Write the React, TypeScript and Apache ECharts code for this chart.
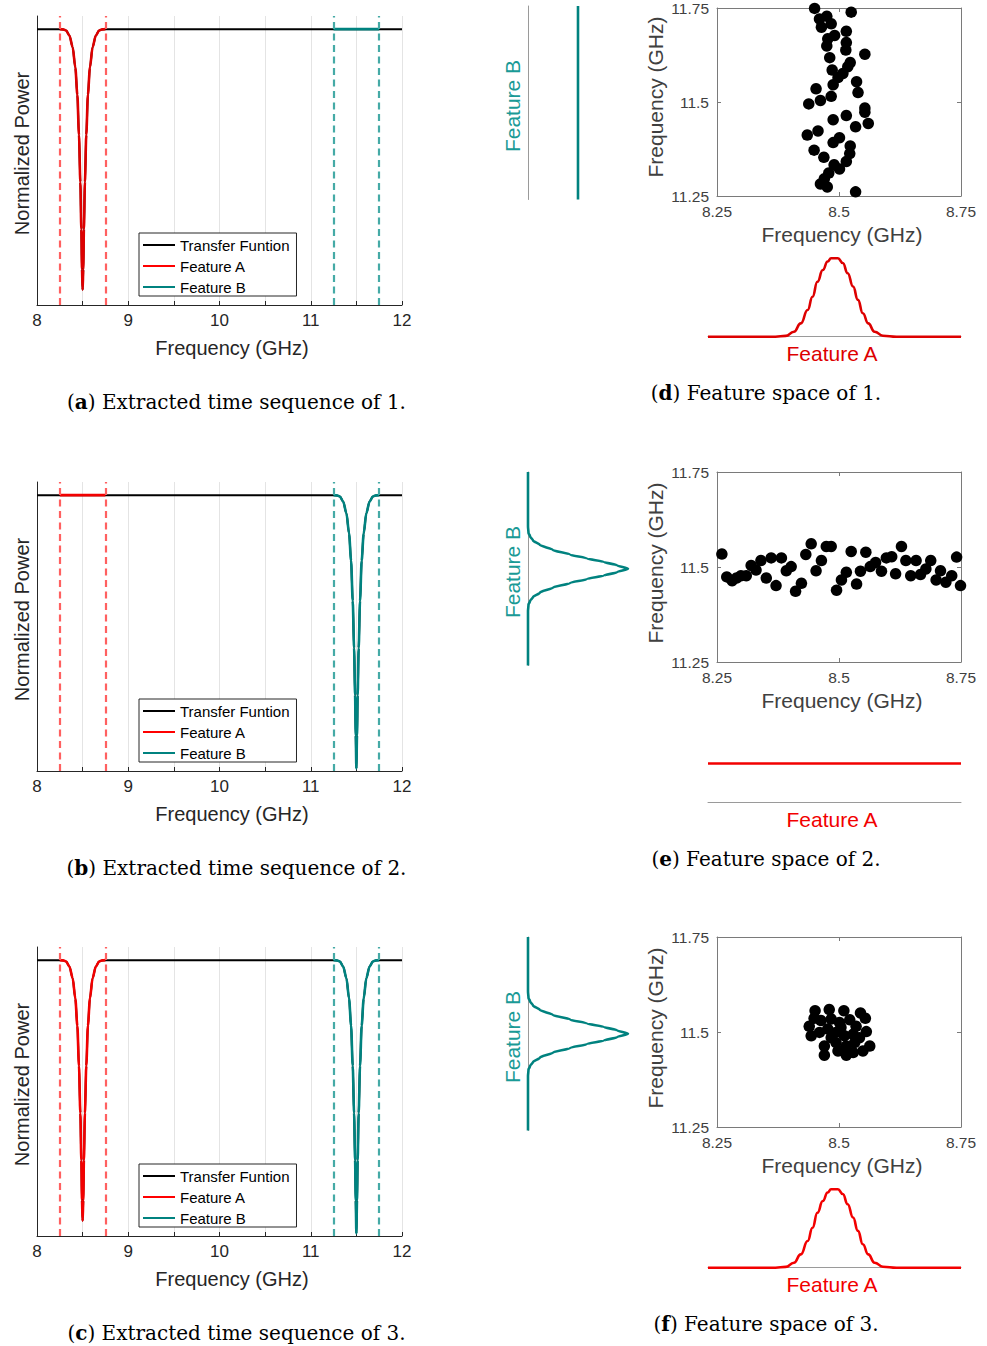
import React, { useEffect, useRef } from 'react';
import * as echarts from 'echarts';

// ---------------- data ----------------
const SEQUENCES = ['1', '2', '3'];
const LEFT_LETTERS = ['a', 'b', 'c'];
const RIGHT_LETTERS = ['d', 'e', 'f'];
const LEGEND_NAMES = ['Transfer Funtion', 'Feature A', 'Feature B'];

const FREQ_RANGE = [8, 12];
const FEATURE_A_WINDOW = [8.25, 8.75];
const FEATURE_B_WINDOW = [11.25, 11.75];
const FEATURE_A_CENTER = 8.5;
const FEATURE_B_CENTER = 11.5;
const PASS_LEVEL = 1;

// resonance dip profile (offset from resonance in GHz -> normalized power), left half
const DIP_OFFSETS = [-0.25, -0.215, -0.181, -0.145, -0.109, -0.08, -0.058, -0.04, -0.025, -0.014, -0.007, 0];
const DIP_VALUES = [1.0, 0.999, 0.995, 0.976, 0.931, 0.854, 0.751, 0.597, 0.418, 0.238, 0.085, 0];
const DIP_A_MIN = 0.008;
const DIP_B_MIN = -0.04;

// whether each sequence shows a dip in feature A / B
const SEQ_HAS_A_DIP = [true, false, true];
const SEQ_HAS_B_DIP = [false, true, true];

// scatter points (Feature A freq, Feature B freq)
const SCATTER_1 = [
  [8.45, 11.749], [8.525, 11.739], [8.46, 11.721], [8.475, 11.728], [8.484, 11.708], [8.464, 11.699],
  [8.515, 11.688], [8.491, 11.677], [8.477, 11.668], [8.515, 11.658], [8.475, 11.649], [8.514, 11.638],
  [8.553, 11.627], [8.481, 11.618], [8.523, 11.605], [8.518, 11.594], [8.486, 11.585], [8.508, 11.576],
  [8.498, 11.565], [8.536, 11.554], [8.488, 11.546], [8.453, 11.535], [8.539, 11.525], [8.484, 11.515],
  [8.462, 11.504], [8.438, 11.495], [8.553, 11.484], [8.553, 11.473], [8.515, 11.464], [8.488, 11.453],
  [8.56, 11.443], [8.534, 11.434], [8.457, 11.423], [8.435, 11.412], [8.501, 11.405], [8.488, 11.392],
  [8.523, 11.383], [8.449, 11.372], [8.522, 11.363], [8.469, 11.353], [8.515, 11.342], [8.49, 11.333],
  [8.501, 11.322], [8.479, 11.311], [8.47, 11.296], [8.462, 11.282], [8.476, 11.274], [8.534, 11.261],
  [8.475, 11.249],
];
const SCATTER_2 = [
  [8.248, 11.477], [8.26, 11.534], [8.27, 11.474], [8.281, 11.464], [8.29, 11.471], [8.299, 11.477],
  [8.31, 11.477], [8.32, 11.504], [8.33, 11.492], [8.34, 11.517], [8.351, 11.471], [8.361, 11.524],
  [8.371, 11.451], [8.382, 11.524], [8.392, 11.49], [8.402, 11.501], [8.411, 11.436], [8.423, 11.457],
  [8.432, 11.533], [8.443, 11.561], [8.453, 11.49], [8.464, 11.517], [8.474, 11.554], [8.484, 11.554],
  [8.495, 11.439], [8.505, 11.466], [8.515, 11.486], [8.525, 11.541], [8.536, 11.455], [8.544, 11.489],
  [8.555, 11.539], [8.564, 11.501], [8.575, 11.512], [8.587, 11.489], [8.597, 11.524], [8.608, 11.527],
  [8.616, 11.482], [8.628, 11.554], [8.637, 11.517], [8.647, 11.477], [8.658, 11.517], [8.667, 11.48],
  [8.678, 11.495], [8.688, 11.517], [8.699, 11.466], [8.708, 11.49], [8.719, 11.46], [8.731, 11.477],
  [8.741, 11.526], [8.749, 11.451],
];
const SCATTER_3 = [
  [8.451, 11.556], [8.48, 11.559], [8.51, 11.556], [8.544, 11.55], [8.554, 11.536], [8.439, 11.515],
  [8.449, 11.536], [8.463, 11.53], [8.484, 11.534], [8.501, 11.525], [8.522, 11.532], [8.535, 11.515],
  [8.556, 11.501], [8.443, 11.49], [8.46, 11.499], [8.477, 11.508], [8.494, 11.499], [8.511, 11.49],
  [8.529, 11.494], [8.542, 11.485], [8.47, 11.463], [8.494, 11.472], [8.515, 11.463], [8.532, 11.472],
  [8.563, 11.463], [8.47, 11.439], [8.515, 11.439], [8.529, 11.446], [8.549, 11.45], [8.504, 11.512],
  [8.484, 11.485], [8.498, 11.45],
];
const SCATTERS = [SCATTER_1, SCATTER_2, SCATTER_3];

// Feature B marginal profile (distance from 11.5 GHz -> density), upper half
const MARG_B_OFFSETS = [0.25, 0.11, 0.0926, 0.084, 0.0732, 0.0617, 0.0485, 0.037, 0.0265, 0.0176, 0.0088, 0];
const MARG_B_VALUES = [0, 0, 0.005, 0.02, 0.05, 0.118, 0.25, 0.42, 0.59, 0.76, 0.89, 1.0];
const MARG_B_FLAT = 0.5;

// Feature A marginal profile (frequency -> density)
const MARG_A_X = [8.232, 8.37, 8.391, 8.408, 8.422, 8.436, 8.446, 8.456, 8.467, 8.477, 8.484, 8.498, 8.508, 8.518, 8.529, 8.539, 8.549, 8.56, 8.573, 8.59, 8.618, 8.75];
const MARG_A_Y = [0, 0, 0.01, 0.064, 0.17, 0.34, 0.51, 0.7, 0.85, 0.96, 1.0, 1.0, 0.94, 0.81, 0.64, 0.47, 0.3, 0.17, 0.064, 0.013, 0, 0];
const MARG_A_FLAT = 0.5;

// ---------------- style / layout ----------------
const SANS = '"Liberation Sans", Arial, Helvetica, sans-serif';
const SERIF = '"DejaVu Serif", serif';
const TEAL = '#00827f';
const TEAL_TEXT = '#1a9a96';
const TEAL_DASH = '#45aaa6';
const RED_DASH = '#ff6060';
const RED_ROW = ['#dd0000', '#f20000', '#f20000'];
const ROW_Y = [0, 466, 931];

function dipCurve(center: number, minValue: number) {
  const left = DIP_OFFSETS.map((d, i) => [center + d, i === DIP_OFFSETS.length - 1 ? minValue : DIP_VALUES[i]]);
  const right = left.slice(0, -1).reverse().map(([x, y]) => [2 * center - x, y]);
  return [...left, ...right];
}

function flatWindow(win: number[]) {
  return [[win[0], PASS_LEVEL], [win[1], PASS_LEVEL]];
}

function buildOption() {
  const grid: any[] = [];
  const xAxis: any[] = [];
  const yAxis: any[] = [];
  const series: any[] = [];
  const legend: any[] = [];
  const graphic: any[] = [];

  const hiddenAxis = (gridIndex: number, min: number, max: number, extra: any = {}) => ({
    gridIndex, type: 'value', min, max,
    axisLine: { show: false }, axisTick: { show: false }, axisLabel: { show: false }, splitLine: { show: false },
    ...extra,
  });

  const txt = (text: string, x: number, y: number, size: number, color: string, family: string, rot = 0, rich?: any) => ({
    type: 'text', x, y, rotation: rot, silent: true,
    style: { text, fill: color, fontSize: size, fontFamily: family, align: 'center', verticalAlign: 'middle', rich },
  });

  SEQUENCES.forEach((seq, r) => {
    const oy = ROW_Y[r];
    const red = RED_ROW[r];

    // ---------- left: transfer function ----------
    const gL = grid.length;
    grid.push({ left: 37, top: 16 + oy, width: 365, height: 289 });
    const xL = xAxis.length;
    xAxis.push({
      gridIndex: gL, type: 'value', min: FREQ_RANGE[0], max: FREQ_RANGE[1], interval: 0.5,
      axisLine: { show: true, onZero: false, lineStyle: { color: '#262626', width: 1 } },
      axisTick: { show: true, inside: true, length: 4, lineStyle: { color: '#262626' } },
      axisLabel: {
        fontSize: 17, color: '#262626', fontFamily: SANS, margin: 7,
        formatter: (v: number) => (Number.isInteger(v) ? String(v) : ''),
      },
      splitLine: { show: true, lineStyle: { color: '#e4e4e4', width: 1 } },
    });
    const yL = yAxis.length;
    yAxis.push({
      gridIndex: gL, type: 'value', min: -0.05, max: 1.05,
      axisLine: { show: true, onZero: false, lineStyle: { color: '#262626', width: 1 } },
      axisTick: { show: false }, axisLabel: { show: false }, splitLine: { show: false },
    });

    const aPart = SEQ_HAS_A_DIP[r] ? dipCurve(FEATURE_A_CENTER, DIP_A_MIN) : flatWindow(FEATURE_A_WINDOW);
    const bPart = SEQ_HAS_B_DIP[r] ? dipCurve(FEATURE_B_CENTER, DIP_B_MIN) : flatWindow(FEATURE_B_WINDOW);
    const transfer = [[FREQ_RANGE[0], PASS_LEVEL], ...aPart, ...bPart, [FREQ_RANGE[1], PASS_LEVEL]];
    const lineCommon = {
      type: 'line', xAxisIndex: xL, yAxisIndex: yL, symbol: 'none', showSymbol: false,
      smooth: 0.3, smoothMonotone: 'x', silent: true,
    };
    series.push({ ...lineCommon, name: LEGEND_NAMES[0], data: transfer, color: '#000', lineStyle: { color: '#000', width: 2 }, z: 2 });
    series.push({
      ...lineCommon, name: LEGEND_NAMES[1], data: aPart, color: red, lineStyle: { color: red, width: 2.6 }, z: 3,
      markLine: {
        silent: true, symbol: ['none', 'none'], label: { show: false },
        lineStyle: { type: [7, 4.5], color: RED_DASH, width: 2.2 },
        data: FEATURE_A_WINDOW.map((v) => ({ xAxis: v })),
      },
    });
    series.push({
      ...lineCommon, name: LEGEND_NAMES[2], data: bPart, color: TEAL, lineStyle: { color: TEAL, width: 2.6 }, z: 3,
      markLine: {
        silent: true, symbol: ['none', 'none'], label: { show: false },
        lineStyle: { type: [7, 4.5], color: TEAL_DASH, width: 2.2 },
        data: FEATURE_B_WINDOW.map((v) => ({ xAxis: v })),
      },
    });

    legend.push({
      left: 139, top: 233 + oy, orient: 'vertical', selectedMode: false,
      icon: 'rect', itemWidth: 32, itemHeight: 2, itemGap: 5,
      padding: [4, 7, 1, 4], borderColor: '#262626', borderWidth: 1, backgroundColor: '#fff',
      itemStyle: { borderWidth: 0 },
      textStyle: { fontSize: 15, color: '#000', fontFamily: SANS, lineHeight: 16 },
      data: [
        { name: LEGEND_NAMES[0], itemStyle: { color: '#000' } },
        { name: LEGEND_NAMES[1], itemStyle: { color: '#ff0000' } },
        { name: LEGEND_NAMES[2], itemStyle: { color: TEAL } },
      ],
    });

    graphic.push(txt('Normalized Power', 22, 153.5 + oy, 20, '#262626', SANS, Math.PI / 2));
    graphic.push(txt('Frequency (GHz)', 232, 348 + oy, 20, '#262626', SANS));
    graphic.push(txt(`({b|${LEFT_LETTERS[r]}}) Extracted time sequence of ${seq}.`, 236.5, 401.5 + oy, 20, '#000', SERIF, 0,
      { b: { fontWeight: 'bold', fontSize: 20, fontFamily: SERIF, fill: '#000' } }));

    // ---------- right: marginal B ----------
    const gB = grid.length;
    grid.push({ left: 528, top: 6 + oy, width: 100, height: 193.5 });
    const xB = xAxis.length;
    xAxis.push(hiddenAxis(gB, 0, 1));
    const yB = yAxis.length;
    yAxis.push(hiddenAxis(gB, FEATURE_B_WINDOW[0], FEATURE_B_WINDOW[1], {
      axisLine: { show: true, onZero: false, lineStyle: { color: '#9a9a9a', width: 1 } },
    }));
    let margB: number[][];
    if (SEQ_HAS_B_DIP[r]) {
      const upper = MARG_B_OFFSETS.map((d, i) => [MARG_B_VALUES[i], FEATURE_B_CENTER + d]);
      const lower = MARG_B_OFFSETS.slice(0, -1).map((d, i) => [MARG_B_VALUES[i], FEATURE_B_CENTER - d]).reverse();
      margB = [...upper, ...lower];
    } else {
      margB = [[MARG_B_FLAT, FEATURE_B_WINDOW[1]], [MARG_B_FLAT, FEATURE_B_WINDOW[0]]];
    }
    series.push({
      type: 'line', name: 'Feature B marginal', xAxisIndex: xB, yAxisIndex: yB, data: margB,
      symbol: 'none', showSymbol: false, smooth: 0.3, smoothMonotone: 'y', silent: true,
      color: TEAL, lineStyle: { color: TEAL, width: 2.6 },
    });
    graphic.push(txt('Feature B', 512, 106 + oy, 21, TEAL_TEXT, SANS, Math.PI / 2));

    // ---------- right: scatter ----------
    const gS = grid.length;
    grid.push({ left: 717, top: 6 + oy, width: 244, height: 190 });
    const axisCol = '#7a7a7a';
    const xS = xAxis.length;
    xAxis.push({
      gridIndex: gS, type: 'value', min: 8.25, max: 8.75, interval: 0.25, position: 'bottom',
      axisLine: { show: true, onZero: false, lineStyle: { color: axisCol, width: 1 } },
      axisTick: { show: true, inside: true, length: 4, lineStyle: { color: axisCol } },
      axisLabel: { fontSize: 15.5, color: '#404040', fontFamily: SANS, margin: 7 },
      splitLine: { show: false },
    });
    xAxis.push({
      gridIndex: gS, type: 'value', min: 8.25, max: 8.75, interval: 0.25, position: 'top',
      axisLine: { show: true, onZero: false, lineStyle: { color: axisCol, width: 1 } },
      axisTick: { show: true, inside: true, length: 4, lineStyle: { color: axisCol } },
      axisLabel: { show: false }, splitLine: { show: false },
    });
    const yS = yAxis.length;
    yAxis.push({
      gridIndex: gS, type: 'value', min: 11.25, max: 11.75, interval: 0.25, position: 'left',
      axisLine: { show: true, onZero: false, lineStyle: { color: axisCol, width: 1 } },
      axisTick: { show: true, inside: true, length: 4, lineStyle: { color: axisCol } },
      axisLabel: { fontSize: 15.5, color: '#404040', fontFamily: SANS, margin: 8 },
      splitLine: { show: false },
    });
    yAxis.push({
      gridIndex: gS, type: 'value', min: 11.25, max: 11.75, interval: 0.25, position: 'right',
      axisLine: { show: true, onZero: false, lineStyle: { color: axisCol, width: 1 } },
      axisTick: { show: true, inside: true, length: 4, lineStyle: { color: axisCol } },
      axisLabel: { show: false }, splitLine: { show: false },
    });
    series.push({
      type: 'scatter', name: 'Feature space ' + seq, xAxisIndex: xS, yAxisIndex: yS,
      data: SCATTERS[r], symbol: 'circle', symbolSize: 11.5, silent: true,
      itemStyle: { color: '#000', opacity: 1 },
    });
    graphic.push(txt('Frequency (GHz)', 655, 97 + oy, 21, '#404040', SANS, Math.PI / 2));
    graphic.push(txt('Frequency (GHz)', 842, 234 + oy, 21, '#404040', SANS));

    // ---------- right: marginal A ----------
    const gA = grid.length;
    grid.push({ left: 708, top: 258.3 + oy, width: 253, height: 78.4 });
    const xA = xAxis.length;
    xAxis.push(hiddenAxis(gA, MARG_A_X[0], MARG_A_X[MARG_A_X.length - 1], {
      axisLine: { show: true, onZero: false, lineStyle: { color: '#9a9a9a', width: 1 } },
    }));
    const yA = yAxis.length;
    yAxis.push(hiddenAxis(gA, 0, 1));
    const margA = SEQ_HAS_A_DIP[r]
      ? MARG_A_X.map((x, i) => [x, MARG_A_Y[i]])
      : [[MARG_A_X[0], MARG_A_FLAT], [MARG_A_X[MARG_A_X.length - 1], MARG_A_FLAT]];
    series.push({
      type: 'line', name: 'Feature A marginal', xAxisIndex: xA, yAxisIndex: yA, data: margA,
      symbol: 'none', showSymbol: false, smooth: 0.5, smoothMonotone: 'x', silent: true,
      color: red, lineStyle: { color: red, width: 2.6 }, clip: false,
    });
    graphic.push(txt('Feature A', 832, 353 + oy, 21, red, SANS));
    graphic.push(txt(`({b|${RIGHT_LETTERS[r]}}) Feature space of ${seq}.`, 766, 392.5 + oy, 20, '#000', SERIF, 0,
      { b: { fontWeight: 'bold', fontSize: 20, fontFamily: SERIF, fill: '#000' } }));
  });

  return {
    animation: false,
    backgroundColor: '#fff',
    grid, xAxis, yAxis, series, legend, graphic,
  };
}

export default function App() {
  const ref = useRef<HTMLDivElement>(null);
  useEffect(() => {
    document.body.style.margin = '0';
    document.body.style.overflow = 'hidden';
    if (!ref.current) return;
    const chart = echarts.init(ref.current, undefined, { renderer: 'svg' });
    chart.setOption(buildOption() as any);
    return () => chart.dispose();
  }, []);
  return <div ref={ref} style={{ width: 987, height: 1346 }} />;
}
